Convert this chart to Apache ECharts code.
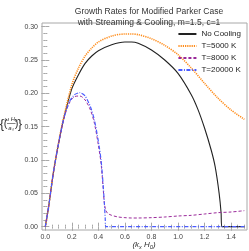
<!DOCTYPE html>
<html><head><meta charset="utf-8">
<script src="https://cdn.jsdelivr.net/npm/echarts@6/dist/echarts.min.js"></script>
<style>html,body{margin:0;padding:0;background:#fff}#c{width:249px;height:251px}</style>
</head><body><div id="c"></div>
<script>
// ---- data ----
const seriesNames = ['No Cooling', 'T=5000 K', 'T=8000 K', 'T=20000 K'];
const xTicks = [0, 0.2, 0.4, 0.6, 0.8, 1.0, 1.2, 1.4];
const yTicks = [0, 0.05, 0.10, 0.15, 0.20, 0.25, 0.30];

const noCoolX = [0, 0.025, 0.06, 0.1, 0.14, 0.2, 0.25, 0.3, 0.35, 0.4, 0.5, 0.6, 0.65, 0.7, 0.8, 0.9, 1.0, 1.1, 1.15, 1.2, 1.25, 1.28, 1.31, 1.325, 1.33, 1.5];
const noCoolY = [0, 0.03, 0.08, 0.125, 0.163, 0.207, 0.228, 0.245, 0.256, 0.264, 0.273, 0.277, 0.277, 0.275, 0.265, 0.25, 0.23, 0.198, 0.176, 0.148, 0.115, 0.09, 0.05, 0.02, 0, 0];

const t5000X = [0, 0.025, 0.06, 0.1, 0.14, 0.2, 0.25, 0.3, 0.35, 0.4, 0.5, 0.6, 0.65, 0.7, 0.8, 0.9, 1.0, 1.1, 1.2, 1.3, 1.4, 1.5];
const t5000Y = [0, 0.03, 0.08, 0.126, 0.165, 0.213, 0.238, 0.256, 0.268, 0.277, 0.286, 0.289, 0.289, 0.288, 0.282, 0.272, 0.258, 0.238, 0.215, 0.193, 0.175, 0.161];

const t8000X = [0, 0.025, 0.06, 0.1, 0.14, 0.18, 0.22, 0.26, 0.3, 0.34, 0.37, 0.4, 0.42, 0.435, 0.445, 0.455, 0.47, 0.5, 0.55, 0.6, 0.65, 0.7, 0.8, 0.9, 1.0, 1.1, 1.2, 1.3, 1.4, 1.5];
const t8000Y = [0, 0.03, 0.08, 0.125, 0.162, 0.185, 0.195, 0.196, 0.19, 0.175, 0.155, 0.122, 0.095, 0.06, 0.035, 0.025, 0.02, 0.017, 0.0145, 0.0135, 0.013, 0.013, 0.0135, 0.0145, 0.016, 0.017, 0.019, 0.021, 0.022, 0.024];

const t20000X = [0, 0.025, 0.06, 0.1, 0.14, 0.18, 0.22, 0.26, 0.3, 0.34, 0.37, 0.4, 0.42, 0.435, 0.445, 0.452, 0.455, 1.5];
const t20000Y = [0, 0.03, 0.08, 0.125, 0.163, 0.187, 0.198, 0.201, 0.196, 0.18, 0.16, 0.128, 0.1, 0.065, 0.035, 0.01, 0, 0];

// ---- helpers ----
const zip = (xs, ys) => xs.map((x, i) => [x, ys[i]]);
const minorX = [], minorY = [];
for (let i = 0; i <= 30; i++) { const v = +(i * 0.05).toFixed(2); if (i % 4 !== 0) minorX.push(v); }
for (let i = 0; i <= 30; i++) { const v = +(i * 0.01).toFixed(2); if (i % 5 !== 0) minorY.push(v); }

const FONT = 'Liberation Sans';
const frame = '#a8a8a8';
const xr = { min: -0.025, max: 1.52 };
const yr = { min: -0.005, max: 0.3055 };

function xAx(pos, ticks, len, labels) {
  return {
    type: 'value', position: pos, ...xr,
    axisLine: { show: false },
    splitLine: { show: false },
    axisTick: { show: true, inside: true, length: len, customValues: ticks, lineStyle: { color: frame, width: 1 } },
    axisLabel: labels ? { show: true, customValues: ticks, fontFamily: FONT, fontSize: 7, color: '#444', margin: 4, formatter: v => v.toFixed(1) } : { show: false }
  };
}
function yAx(pos, ticks, len, labels) {
  return {
    type: 'value', position: pos, ...yr,
    axisLine: { show: false },
    splitLine: { show: false },
    axisTick: { show: true, inside: true, length: len, customValues: ticks, lineStyle: { color: frame, width: 1 } },
    axisLabel: labels ? { show: true, customValues: ticks, fontFamily: FONT, fontSize: 7, color: '#444', margin: 4, formatter: v => v.toFixed(2) } : { show: false }
  };
}

const chart = echarts.init(document.getElementById('c'), null, { renderer: 'canvas' });
const lineBase = { type: 'line', showSymbol: false, symbol: 'none', smooth: 0.3, xAxisIndex: 0, yAxisIndex: 0, animation: false };

const T = (x, y, text, size, extra) => ({ type: 'text', x: x, y: y, style: Object.assign({ text: text, fontFamily: FONT, fontSize: size, fill: '#333', textAlign: 'center', textVerticalAlign: 'middle' }, extra || {}) });

chart.setOption({
  animation: false,
  title: {
    text: 'Growth Rates for Modified Parker Case\nwith Streaming & Cooling, m=1.5, c=1',
    left: 144, top: 1, textAlign: 'center',
    textStyle: { fontFamily: FONT, fontSize: 8.5, fontWeight: 'normal', color: '#333', lineHeight: 11 }
  },
  grid: { left: 42, right: 2, top: 23, bottom: 21, show: true, borderColor: frame, borderWidth: 1, backgroundColor: 'transparent' },
  xAxis: [
    xAx('bottom', xTicks, 4, true),
    xAx('bottom', minorX, 2, false),
    xAx('top', xTicks, 4, false),
    xAx('top', minorX, 2, false)
  ],
  yAxis: [
    yAx('left', yTicks, 4, true),
    yAx('left', minorY, 2, false),
    yAx('right', yTicks, 4, false),
    yAx('right', minorY, 2, false)
  ],
  legend: {
    orient: 'vertical', right: 3, top: 25, itemWidth: 18, itemHeight: 8, itemGap: 4,
    itemStyle: { opacity: 0 },
    textStyle: { fontFamily: FONT, fontSize: 8, color: '#222' },
    data: seriesNames
  },
  series: [
    Object.assign({}, lineBase, { name: seriesNames[0], data: zip(noCoolX, noCoolY), smooth: 0.2, lineStyle: { color: '#222', width: 1.1 }, itemStyle: { color: '#222' }, z: 2 }),
    Object.assign({}, lineBase, { name: seriesNames[1], data: zip(t5000X, t5000Y), lineStyle: { color: '#ff8c1a', width: 1.6, type: [1.2, 1] }, itemStyle: { color: '#ff8c1a' }, z: 3 }),
    Object.assign({}, lineBase, { name: seriesNames[2], data: zip(t8000X, t8000Y), lineStyle: { color: '#9a2a9a', width: 1, type: [3, 2] }, itemStyle: { color: '#9a2a9a' }, z: 4 }),
    Object.assign({}, lineBase, { name: seriesNames[3], data: zip(t20000X, t20000Y), smooth: 0.2, lineStyle: { color: '#4b5cff', width: 1.2, type: [4, 1.5, 1, 1.5] }, itemStyle: { color: '#4b5cff' }, z: 5 })
  ],
  graphic: [
    { type: 'text', x: 144, y: 245, style: { text: '(k{s|x} H{s|0})', fontFamily: FONT, fontSize: 8, fontStyle: 'italic', fill: '#333', textAlign: 'center', textVerticalAlign: 'middle', rich: { s: { fontFamily: FONT, fontSize: 5.5, fontStyle: 'italic', fill: '#333', padding: [4, 0, 0, 0] } } } },
    T(2, 124, '{', 13),
    T(5.5, 124, '(', 11),
    T(11, 119.5, 'ω H₀', 6, { fontStyle: 'italic' }),
    { type: 'line', shape: { x1: 7, y1: 123.5, x2: 15.5, y2: 123.5 }, style: { stroke: '#333', lineWidth: 0.6 } },
    T(11, 128, 'aₛ', 6, { fontStyle: 'italic' }),
    T(16.5, 124, ')', 11),
    T(20, 124, '}', 13)
  ]
});
</script></body></html>
